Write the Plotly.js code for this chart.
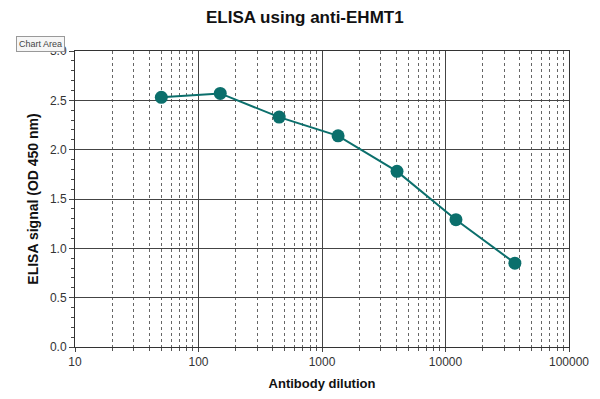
<!DOCTYPE html>
<html>
<head>
<meta charset="utf-8">
<script src="https://cdn.plot.ly/plotly-3.0.1.min.js"></script>
<style>html,body{margin:0;padding:0;background:#fff;}#chart{width:600px;height:399px;}</style>
</head>
<body>
<div id="chart"></div>
<script>
const dilution = [50, 150, 450, 1350, 4050, 12150, 36450];
const signal = [2.53, 2.57, 2.33, 2.14, 1.78, 1.29, 0.85];
const xTickVals = [10, 100, 1000, 10000, 100000];
const xTickText = ["10", "100", "1000", "10000", "100000"];
const yTickVals = [0, 0.5, 1.0, 1.5, 2.0, 2.5, 3.0];

const FONT = "Liberation Sans, Arial, sans-serif";
const teal = "#0b6f6c";

const trace = {
  x: dilution, y: signal, type: "scatter", mode: "lines+markers",
  line: {color: teal, width: 2},
  marker: {color: teal, size: 13},
  hoverinfo: "skip", showlegend: false
};

const layout = {
  width: 600, height: 399,
  margin: {l: 75, r: 31, t: 51, b: 52},
  paper_bgcolor: "#fff", plot_bgcolor: "#fff",
  font: {family: FONT, color: "#333", size: 12},
  title: {text: "<b>ELISA using anti-EHMT1</b>", font: {family: FONT, size: 17, color: "#111"},
          xref: "container", x: 0.508, xanchor: "center", yref: "container", y: 0.957, yanchor: "middle"},
  xaxis: {
    type: "log", range: [1, 5], tickvals: xTickVals, ticktext: xTickText,
    ticks: "outside", ticklen: 4, tickcolor: "#444",
    showline: true, linecolor: "#333", linewidth: 1, mirror: true,
    showgrid: true, gridcolor: "#444", gridwidth: 1,
    zeroline: false,
    minor: {dtick: "D1", showgrid: true, gridcolor: "#666", griddash: "dot", gridwidth: 1, ticks: "outside", ticklen: 3, tickcolor: "#555"},
    tickfont: {family: FONT, size: 12, color: "#333"},
    title: {text: "<b>Antibody dilution</b>", font: {family: FONT, size: 13, color: "#111"}, standoff: 10}
  },
  yaxis: {
    range: [0, 3], tickvals: yTickVals, tickformat: ".1f",
    ticks: "outside", ticklen: 5, tickcolor: "#444",
    showline: true, linecolor: "#333", linewidth: 1, mirror: true,
    showgrid: true, gridcolor: "#444", gridwidth: 1,
    zeroline: false,
    minor: {dtick: 0.1, ticks: "outside", ticklen: 3, tickcolor: "#444", showgrid: false},
    tickfont: {family: FONT, size: 12, color: "#333"},
    title: {text: "<b>ELISA signal (OD 450 nm)</b>", font: {family: FONT, size: 14, color: "#111"}, standoff: 8}
  },
  annotations: [{
    text: "Chart Area", xref: "paper", yref: "paper",
    x: -0.069, y: 1.024, xanchor: "center", yanchor: "middle", showarrow: false,
    font: {family: FONT, size: 9, color: "#444"},
    bgcolor: "#f6f6f6", bordercolor: "#999", borderwidth: 1, borderpad: 2
  }]
};

Plotly.newPlot("chart", [trace], layout, {staticPlot: true, displayModeBar: false});
</script>
</body>
</html>
